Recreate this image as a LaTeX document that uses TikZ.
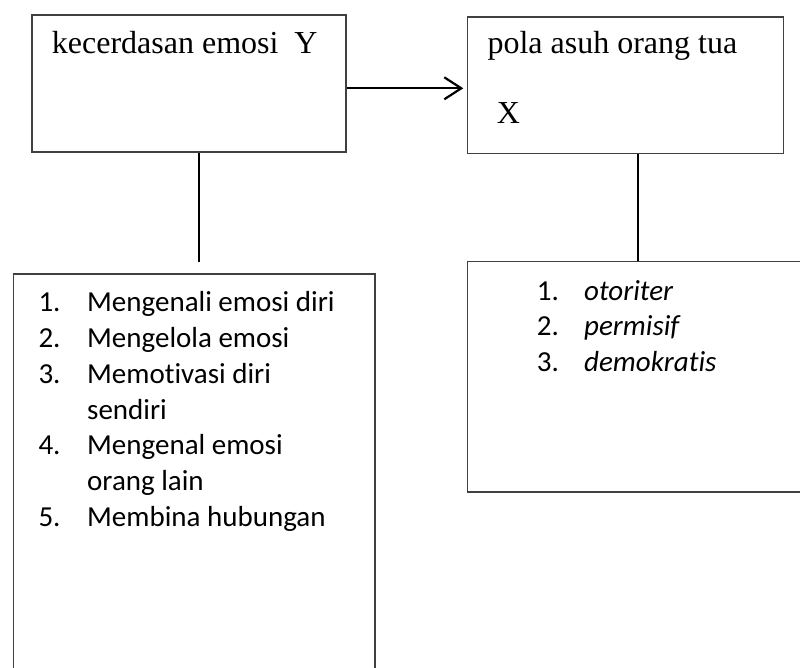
\documentclass[tikz,border=0pt]{standalone}
\usepackage{fontspec}
\usetikzlibrary{arrows.meta}
\newfontfamily\timesfont{Liberation Serif}
\newfontfamily\calibrifont[Ligatures=NoCommon]{Carlito}
\begin{document}
\begin{tikzpicture}[x=1pt,y=1pt,
  box/.style={draw=black!75, line width=1.6pt, inner sep=0pt, anchor=north west},
  conn/.style={draw=black, line width=2pt},
  ttl/.style={anchor=base west, inner sep=0pt, font=\timesfont\fontsize{32}{38}\selectfont},
  itm/.style={anchor=base west, inner sep=0pt, font=\calibrifont\fontsize{29}{35}\selectfont},
  itmi/.style={itm, font=\calibrifont\itshape\fontsize{29}{35}\selectfont}]
\clip (0,0) rectangle (800,-668);
\fill[white] (0,0) rectangle (800,-668);
% boxes
\node[box, minimum width=314pt, minimum height=137pt] (b1) at (31,-14) {};
\node[box, minimum width=316pt, minimum height=136.7pt] (b2) at (466.7,-16) {};
\node[box, minimum width=361.3pt, minimum height=430pt] (b3) at (12.7,-273) {};
\node[box, minimum width=360pt, minimum height=230.3pt] (b4) at (466.7,-260.7) {};
% titles
\node[ttl] (t1) at (51.7,-53.3) {kecerdasan emosi\ \ Y};
\node[ttl] (t2) at (487.3,-53.3) {pola asuh orang tua};
\node[ttl] (t3) at (496.7,-123.3) {X};
% connectors
\coordinate (e1) at (199.3,-262);
\coordinate (c2) at (638.2,-200);
\coordinate (a2) at (463.3,-88.3);
\draw[conn, line width=1.8pt] (b1.south -| e1) -- (e1);
\draw[conn, line width=1.8pt] (b2.south -| c2) -- (b4.north -| c2);
\draw[conn, line width=2.2pt, -{Straight Barb[length=17pt,width=22pt,line width=2.2pt]}] (b1.east |- a2) -- (a2);
% list 1
\node[itm] (n1) at (38.3,-311.7) {1.};
\node[itm] (l1) at (87,-311.7) {Mengenali emosi diri};
\node[itm] (n2) at (38.3,-347.5) {2.};
\node[itm] (l2) at (87,-347.5) {Mengelola emosi};
\node[itm] (n3) at (38.3,-383.3) {3.};
\node[itm] (l3) at (87,-383.3) {Memotivasi diri};
\node[itm] (l3b) at (87,-419.1) {sendiri};
\node[itm] (n4) at (38.3,-454.9) {4.};
\node[itm] (l4) at (87,-454.9) {Mengenal emosi};
\node[itm] (l4b) at (87,-490.7) {orang lain};
\node[itm] (n5) at (38.3,-526.5) {5.};
\node[itm] (l5) at (87,-526.5) {Membina hubungan};
% list 2
\node[itm] (m1) at (536.7,-300) {1.};
\node[itmi] (k1) at (584,-300) {otoriter};
\node[itm] (m2) at (536.7,-335.5) {2.};
\node[itmi] (k2) at (584,-335.5) {permisif};
\node[itm] (m3) at (536.7,-371) {3.};
\node[itmi] (k3) at (584,-371) {demokratis};
\end{tikzpicture}
\end{document}
